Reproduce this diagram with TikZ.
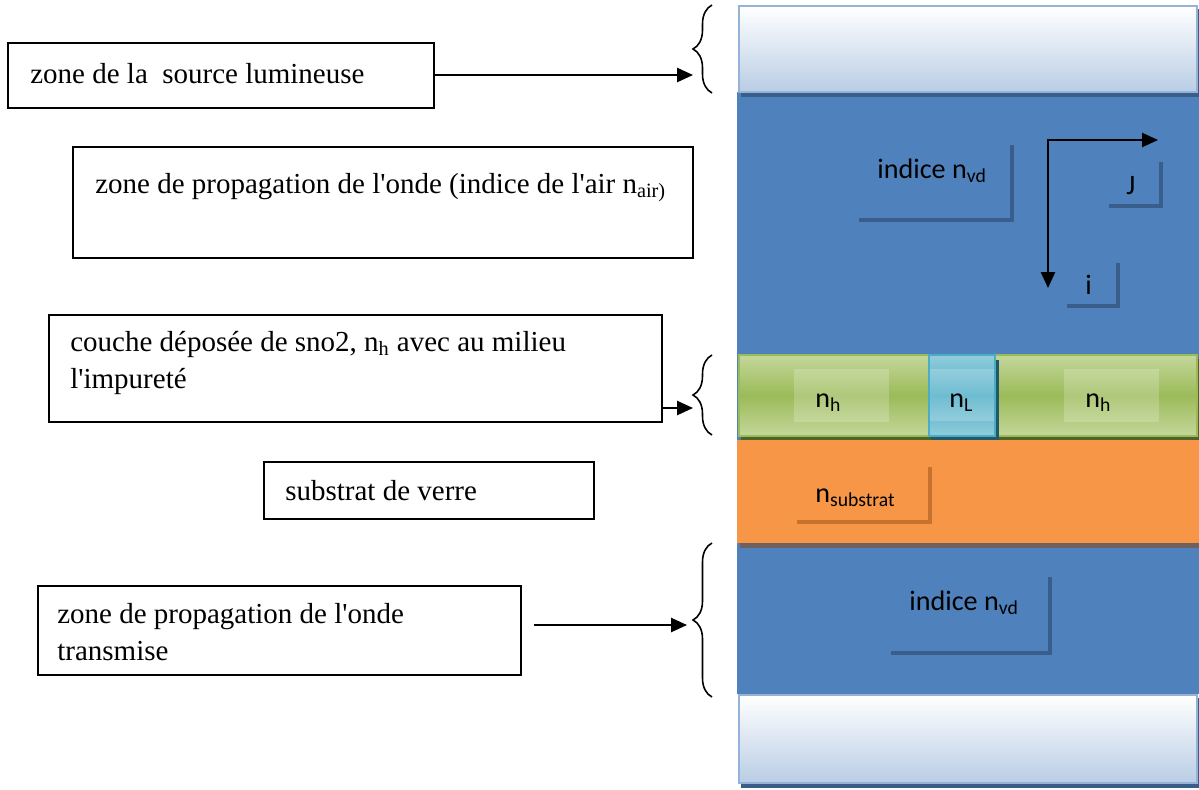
\documentclass[tikz,border=0pt]{standalone}
\usepackage{fontspec}
\setmainfont{Liberation Serif}
\newfontfamily\calibfont{Carlito}
\usetikzlibrary{arrows.meta,fit,decorations.pathreplacing}

\definecolor{waveblue}{RGB}{79,129,189}
\definecolor{darkblue}{RGB}{58,94,140}
\definecolor{windowedge}{RGB}{149,179,215}
\definecolor{windowlow}{RGB}{185,205,229}
\definecolor{greenmid}{RGB}{155,187,89}
\definecolor{greenlight}{RGB}{196,215,155}
\definecolor{greenshadow}{RGB}{79,98,40}
\definecolor{cyanmid}{RGB}{75,172,198}
\definecolor{cyanlight}{RGB}{146,205,220}
\definecolor{cyanshadow}{RGB}{33,89,104}
\definecolor{substrate}{RGB}{247,150,70}
\definecolor{substrateedge}{RGB}{199,114,46}
\definecolor{glassshadow}{RGB}{111,97,95}

\tikzset{
  zonebox/.style={draw, line width=0.8pt, inner sep=0pt},
  zonetext/.style={anchor=base west, inner sep=0pt, align=left,
    font=\fontsize{16.5}{21}\selectfont},
  layertext/.style={anchor=base west, inner sep=0pt,
    font=\calibfont\fontsize{16}{19}\selectfont},
  cornershadow/.style={line width=2.8pt},
  pointer/.style={-{Triangle[length=9pt,width=8pt]}, line width=1.1pt},
  bracemark/.style={decorate, decoration={brace, amplitude=0.38cm}, line width=0.9pt},
  window/.style={draw=windowedge, line width=1.2pt, top color=white, bottom color=windowlow}
}

\begin{document}
\begin{tikzpicture}[x=0.02cm, y=-0.02cm]
\useasboundingbox (0,0) rectangle (1199,789);

% stack of layers
\fill[waveblue] (737,92) rectangle (1199,694);

% light source window
\fill[darkblue] (741,9) rectangle (1199,97);
\draw[window] (739,6) rectangle (1197,92);

% sno2 layer with the impurity
\fill[greenshadow] (741,359) rectangle (1199,440);
\draw[draw=greenmid, line width=1.2pt, top color=greenlight, bottom color=greenlight,
  middle color=greenmid] (739,355) rectangle (1197,436);
\fill[white, fill opacity=0.2] (794,369) rectangle (889,422);
\fill[white, fill opacity=0.2] (1064,369) rectangle (1159,422);
\fill[cyanshadow] (931,360) rectangle (999,440);
\draw[draw=cyanmid, line width=1.2pt, top color=cyanlight, bottom color=cyanlight,
  middle color=cyanmid] (929,355) rectangle (995,436);
\fill[white, fill opacity=0.2] (930,369) rectangle (994,421);

% glass substrate
\fill[substrate] (737,440) rectangle (1199,543);
\fill[glassshadow] (740,543) rectangle (1199,548);

% bottom window
\fill[darkblue] (741,698) rectangle (1199,788);
\draw[window] (739,695) rectangle (1197,783);

% labels inside the stack
\node[layertext] (vdtop) at (877,178) {indice n\textsubscript{vd}};
\draw[darkblue, cornershadow] (859,220) -| (1012,145);

\coordinate (axisj) at (1158,140);
\coordinate (axisi) at (1048,288);
\draw[{Triangle[length=9pt,width=8pt]}-{Triangle[length=9pt,width=8pt]}, line width=1.1pt]
  (axisj) -| (axisi);
\node[layertext] (jlabel) at (1126,194) {J};
\draw[darkblue, cornershadow] (1109,206) -| (1161,162);
\node[layertext] (ilabel) at (1085,294) {i};
\draw[darkblue, cornershadow] (1067,306) -| (1118,263);

\node[layertext] (nhleft) at (815,407) {n\textsubscript{h}};
\node[layertext] (nlow) at (949,407) {n\textsubscript{L}};
\node[layertext] (nhright) at (1085,407) {n\textsubscript{h}};

\node[layertext] (nsub) at (815,502) {n\textsubscript{substrat}};
\draw[substrateedge, cornershadow] (797,522) -| (930,467);

\node[layertext] (vdbot) at (909,610) {indice n\textsubscript{vd}};
\draw[darkblue, cornershadow] (891,653) -| (1050,577);

% description boxes (two-line texts sit on the baseline of their last line)
\node[zonebox, fit={(8,43) (434,108)}] (source) {};
\node[zonetext] (sourcetext) at (30,83) {zone de la\ \ source lumineuse};

\node[zonebox, fit={(73,147) (693,258)}] (propag) {};
\node[zonetext] (propagtext) at (95,193)
  {zone de propagation de l\textquotesingle onde (indice de l\textquotesingle air n\textsubscript{air)}};

\node[zonebox, fit={(49,315) (662,422)}] (couche) {};
\node[zonetext] (couchetext) at (70,388)
  {couche déposée de sno2, n\textsubscript{h} avec au milieu\\l\textquotesingle impureté};

\node[zonebox, fit={(264,462) (594,519)}] (verre) {};
\node[zonetext] (verretext) at (285,500) {substrat de verre};

\node[zonebox, fit={(38,586) (521,675)}] (transmise) {};
\node[zonetext] (transmisetext) at (57,660)
  {zone de propagation de l\textquotesingle onde\\transmise};

% braces
\coordinate (sourcetop) at (712,5);
\coordinate (sourcebot) at (712,93);
\draw[bracemark] (sourcebot) -- (sourcetop);
\coordinate (couchetop) at (712,355);
\coordinate (couchebot) at (712,435);
\draw[bracemark] (couchebot) -- (couchetop);
\coordinate (transtop) at (712,543);
\coordinate (transbot) at (712,697);
\draw[bracemark] (transbot) -- (transtop);

% arrows towards the braces
\coordinate (sourcetip) at (693,75);
\draw[pointer] (source.east |- sourcetip) -- (sourcetip);
\coordinate (couchetip) at (693,408);
\draw[pointer] (couche.east |- couchetip) -- (couchetip);
\coordinate (transstart) at (534,625);
\coordinate (transtip) at (687,625);
\draw[pointer] (transstart) -- (transtip);

\end{tikzpicture}
\end{document}
